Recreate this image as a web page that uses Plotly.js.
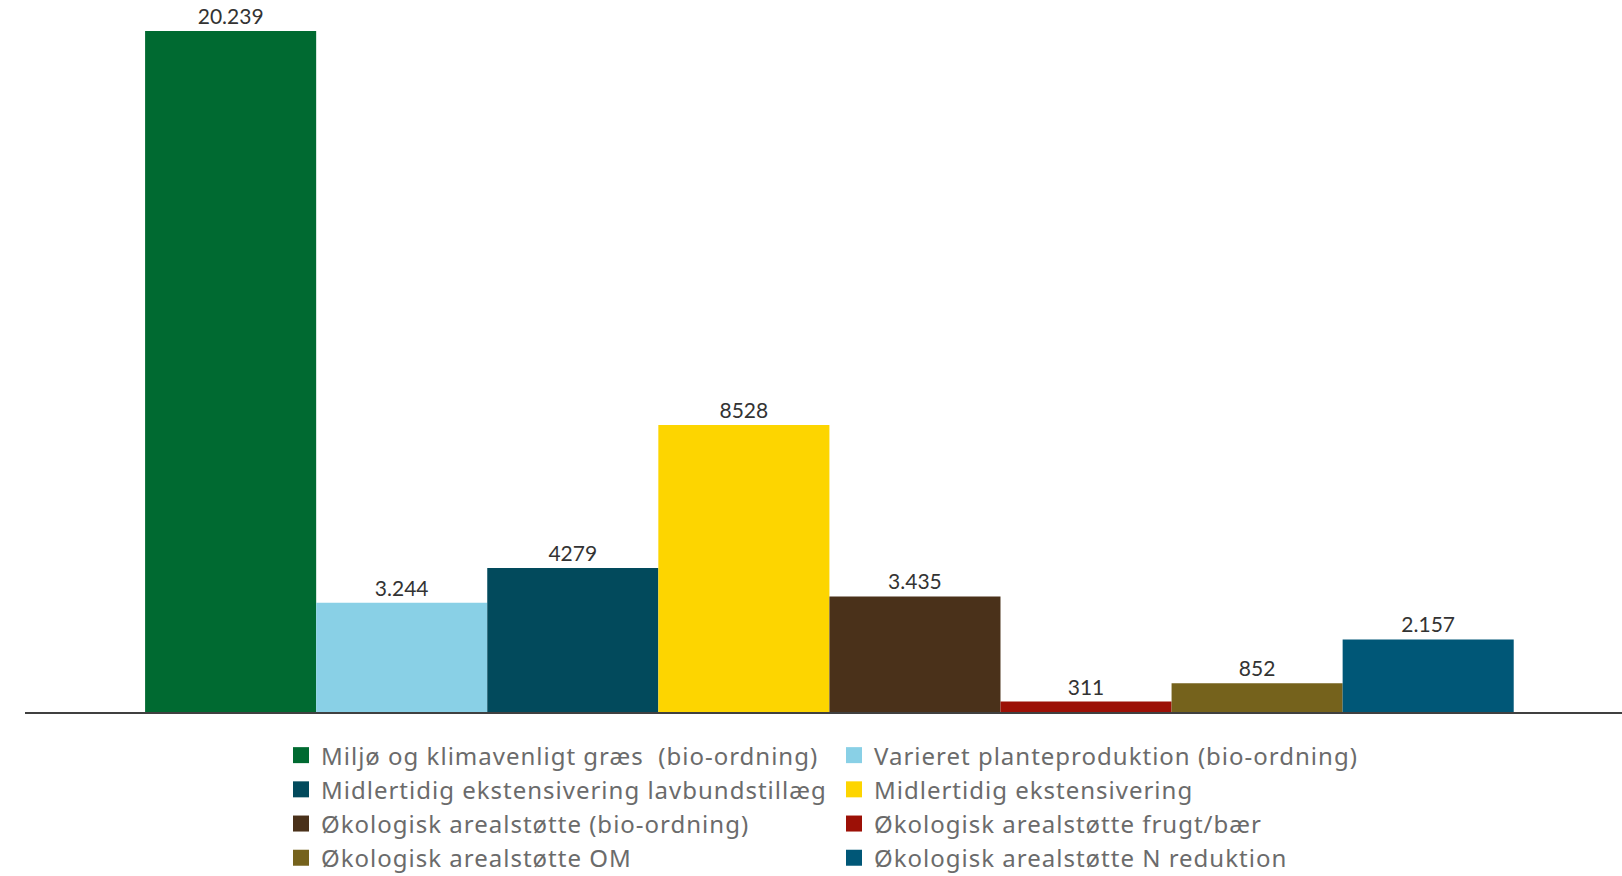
<!DOCTYPE html>
<html>
<head>
<meta charset="utf-8">
<script src="https://cdn.plot.ly/plotly-3.0.1.min.js"></script>
<style>
html,body{margin:0;padding:0;background:#fff;}
#chart{width:1622px;height:876px;}
#chart .legendtext{letter-spacing:1px;}
</style>
</head>
<body>
<div id="chart"></div>
<script>
const category = ['Areal'];
const seriesNames = [
  'Miljø og klimavenligt græs  (bio-ordning)',
  'Varieret planteproduktion (bio-ordning)',
  'Midlertidig ekstensivering lavbundstillæg',
  'Midlertidig ekstensivering',
  'Økologisk arealstøtte (bio-ordning)',
  'Økologisk arealstøtte frugt/bær',
  'Økologisk arealstøtte OM',
  'Økologisk arealstøtte N reduktion'
];
const seriesValues = [20239, 3244, 4279, 8528, 3435, 311, 852, 2157];
const valueLabels = ['20.239', '3.244', '4279', '8528', '3.435', '311', '852', '2.157'];
const seriesColors = ['#006A31', '#89D0E6', '#024A5C', '#FDD500', '#4A311A', '#9C1006', '#75621C', '#005777'];

const FONT = '"Noto Sans", "Open Sans", sans-serif';
const LABEL_FONT = 'Lato, "Noto Sans", sans-serif';

const barTraces = seriesNames.map((name, i) => ({
  type: 'bar',
  x: category,
  y: [seriesValues[i]],
  name: name,
  legendgroup: 'g' + i,
  showlegend: false,
  marker: {color: seriesColors[i], line: {width: 0}},
  text: [valueLabels[i]],
  textposition: 'outside',
  cliponaxis: false,
  textfont: {family: LABEL_FONT, size: 21, color: '#333333'},
  hoverinfo: 'name+y'
}));

// legend-only entries (larger square swatches)
const legendTraces = seriesNames.map((name, i) => ({
  type: 'scatter',
  mode: 'markers',
  x: category,
  y: [null],
  name: name,
  legendgroup: 'g' + i,
  showlegend: true,
  marker: {color: seriesColors[i], symbol: 'square', size: 17},
  hoverinfo: 'skip'
}));

const layout = {
  width: 1622,
  height: 876,
  margin: {l: 25, r: 0, t: 0, b: 164},
  paper_bgcolor: '#ffffff',
  plot_bgcolor: '#ffffff',
  barmode: 'group',
  bargap: 0.143,
  bargroupgap: 0,
  showlegend: true,
  font: {family: FONT, color: '#6b6b6b'},
  xaxis: {
    type: 'category',
    range: [-0.5037, 0.4963],
    showticklabels: false,
    ticks: '',
    showgrid: false,
    zeroline: false,
    showline: true,
    linecolor: '#404040',
    linewidth: 1.5,
    fixedrange: true
  },
  yaxis: {
    range: [0, 21160],
    visible: false,
    showgrid: false,
    zeroline: false,
    fixedrange: true
  },
  legend: {
    orientation: 'h',
    x: 0.1603,
    xanchor: 'left',
    xref: 'paper',
    y: 0.1632,
    yanchor: 'top',
    yref: 'container',
    entrywidth: 508,
    entrywidthmode: 'pixels',
    traceorder: 'normal',
    itemsizing: 'trace',
    font: {family: FONT, size: 24, color: '#6b6b6b'},
    bgcolor: 'rgba(0,0,0,0)'
  }
};

Plotly.newPlot('chart', barTraces.concat(legendTraces), layout, {displayModeBar: false, staticPlot: true});
</script>
</body>
</html>
